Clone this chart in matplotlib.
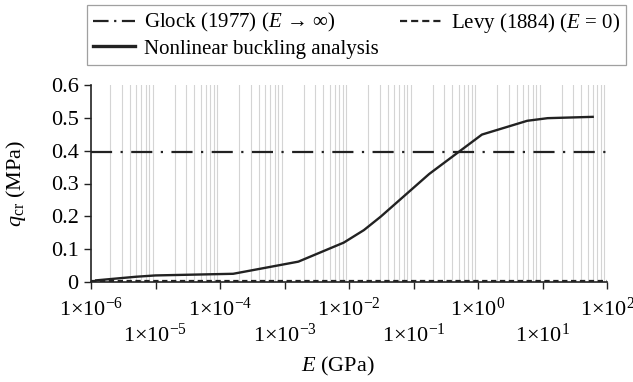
import numpy as np
import matplotlib
matplotlib.use("Agg")
import matplotlib.pyplot as plt
from matplotlib.ticker import LogLocator, NullFormatter
from matplotlib.lines import Line2D

plt.rcParams['font.family'] = ['Liberation Serif', 'DejaVu Serif']
plt.rcParams['mathtext.fontset'] = 'custom'
plt.rcParams['mathtext.rm'] = 'Liberation Serif'
plt.rcParams['mathtext.it'] = 'Liberation Serif:italic'

# nonlinear buckling analysis
E_nl = [1.2e-6, 5e-6, 1e-5, 1.6e-4, 1.64e-3, 8.3e-3, 0.017, 0.031, 0.175, 1.15, 5.8, 12, 60]
q_nl = [0.005, 0.016, 0.020, 0.025, 0.062, 0.120, 0.158, 0.199, 0.329, 0.449, 0.491, 0.499, 0.503]

# analytical limits
E_lim = [1e-6, 1e2]
q_glock = [0.397, 0.397]
q_levy = [0.004, 0.004]

xticks = [10.0 ** k for k in range(-6, 3)]
xlabels = [r'$1{\times}10^{%d}$' % k for k in range(-6, 3)]
yticks = [0, 0.1, 0.2, 0.3, 0.4, 0.5, 0.6]
ylabels = ['0', '0.1', '0.2', '0.3', '0.4', '0.5', '0.6']

fig = plt.figure(figsize=(6.33, 3.82), dpi=100)
ax = fig.add_axes([91 / 633, 1 - 282 / 382, (607 - 91) / 633, (282 - 85) / 382])

ax.set_xscale('log')
ax.set_xlim(1e-6, 1e2)
ax.set_ylim(0, 0.6)

ax.xaxis.set_minor_locator(LogLocator(base=10, subs=np.arange(2, 10), numticks=100))
ax.xaxis.set_minor_formatter(NullFormatter())
ax.grid(True, which='minor', axis='x', color='#d4d4d4', linewidth=0.8, zorder=0)
ax.tick_params(axis='x', which='minor', length=0)

dashdot = (0, (9.5, 3.8, 1.0, 3.8))
dashed = (0, (2.4, 1.6))
lg, = ax.plot(E_lim, q_glock, color='#222222', linewidth=1.6, linestyle=dashdot, zorder=3)
ll, = ax.plot(E_lim, q_levy, color='#222222', linewidth=1.6, linestyle=dashed, zorder=3)
ln, = ax.plot(E_nl, q_nl, color='#222222', linewidth=1.7, zorder=4)

ax.set_xticks(xticks)
ax.set_xticklabels(xlabels)
ax.set_yticks(yticks)
ax.set_yticklabels(ylabels)
ax.tick_params(axis='both', which='major', direction='out', length=5,
               width=1, color='#222222', labelsize=16)
for i, t in enumerate(ax.xaxis.get_major_ticks()):
    t.set_pad(6 if i % 2 == 0 else 25)
ax.tick_params(axis='y', pad=4)

for s in ['top', 'right']:
    ax.spines[s].set_visible(False)
for s in ['left', 'bottom']:
    ax.spines[s].set_linewidth(1.2)
    ax.spines[s].set_color('#222222')

ax.set_ylabel(r'$q_{\mathrm{cr}}$ (MPa)', fontsize=16)
ax.yaxis.set_label_coords(-0.122, 0.5)
ax.set_xlabel(r'$E$ (GPa)', fontsize=16)
ax.xaxis.set_label_coords(0.479, -0.37)

h_glock = Line2D([], [], color='#222222', linewidth=1.6, linestyle=(0, (7, 2.5, 1.0, 2.5)))
h_levy = Line2D([], [], color='#222222', linewidth=1.6, linestyle=(0, (3.2, 1.8)))
h_nl = Line2D([], [], color='#222222', linewidth=2.4)
leg = fig.legend([h_glock, h_nl, h_levy],
                 [r'Glock (1977) ($E$ → ∞)', 'Nonlinear buckling analysis',
                  r'Levy (1884) ($E$ = 0)'],
                 ncol=2, loc='upper left', bbox_to_anchor=(87 / 633, 1 - 4.7 / 382),
                 fontsize=15, frameon=True, fancybox=False, borderaxespad=0,
                 handlelength=2.0, handletextpad=0.45, columnspacing=1.0,
                 labelspacing=0.22, borderpad=0.3)
leg.get_frame().set_edgecolor('#888888')
leg.get_frame().set_linewidth(0.9)

fig.savefig('out.png', dpi=100)
